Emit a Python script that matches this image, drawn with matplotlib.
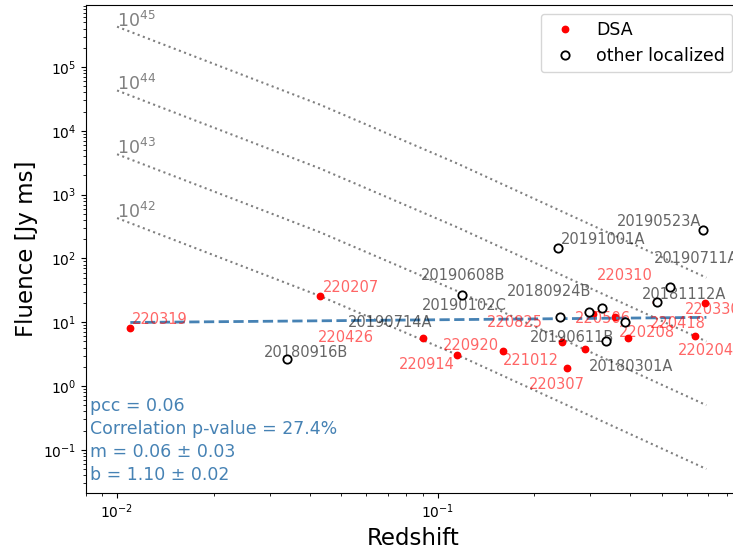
import matplotlib
matplotlib.use("Agg")
import matplotlib.pyplot as plt
import numpy as np

# DSA bursts (redshift, fluence in Jy ms)
dsa_names = ['220319', '220207', '220426', '220914', '220920', '221012', '220825',
             '220307', '220506', '220208', '220204', '220418', '220330', '220310']
dsa_z = [0.0110, 0.0431, 0.0901, 0.1148, 0.160, 0.2885, 0.2446,
         0.254, 0.306, 0.358, 0.394, 0.635, 0.685, 0.480]
dsa_fluence = [8.0, 26.0, 5.65, 3.09, 3.54, 3.80, 4.89,
               1.94, 13.3, 12.2, 5.71, 6.08, 19.8, 21.0]

# other localized bursts
oth_names = ['20180916B', '20190608B', '20191001A', '20190714A', '20190102C', '20180924B',
             '20180301A', '20190611B', '20181112A', '20190711A', '20190523A']
oth_z = [0.0338, 0.119, 0.237, 0.2406, 0.297, 0.3267,
         0.336, 0.3855, 0.4853, 0.532, 0.674]
oth_fluence = [2.62, 27.0, 144.0, 12.2, 14.3, 16.5,
               5.07, 10.2, 20.5, 35.2, 282.0]

energy_exp = [42, 43, 44, 45]
curve_z = [0.01, 0.043, 0.1155, 0.69]
curve_f42 = [430.0, 25.7, 3.06, 0.05]

# fitted line endpoints
fit_z = [0.011, 0.69]
fit_fluence = [9.9, 11.9]

stats_text = ("pcc = 0.06\nCorrelation p-value = 27.4%\n"
              "m = 0.06 \u00b1 0.03\nb = 1.10 \u00b1 0.02")

# label offsets in pixels (left, baseline)
dsa_offsets = [(2, 4), (2, 4), (-105, -4), (-58, -14), (-60, 1), (-82, -16), (-75, 15),
               (-38, -21), (-18, -9), (4, -20), (50, -17), (-45, 8), (-20, -11), (-59, 22)]
oth_offsets = [(-23, 2), (-41, 15), (3, 4), (-212, -10), (-167, 2), (-95, 12),
               (-17, -30), (-95, -20), (-16, 3), (-16, 24), (-86, 4)]

fig = plt.figure(figsize=(7.33, 5.48), dpi=100)
ax = fig.add_axes([86 / 733, 55 / 548, (741 - 86) / 733, 488 / 548])

for e in energy_exp:
    f = np.array(curve_f42) * 10.0 ** (e - 42)
    ax.plot(curve_z, f, ':', color='gray', lw=1.5)
    ax.text(curve_z[0], f[0], r'$10^{%d}$' % e, color='gray', fontsize=12.5,
            ha='left', va='baseline')

ax.plot(dsa_z, dsa_fluence, 'o', color='red', ms=4.6, ls='none', label='DSA', zorder=2)
ax.plot(oth_z, oth_fluence, 'o', mfc='white', mec='black', mew=1.3, ms=6,
        ls='none', label='other localized', zorder=4)

ax.plot(fit_z, fit_fluence, '--', color='steelblue', lw=2)

for name, z, f, off in zip(dsa_names, dsa_z, dsa_fluence, dsa_offsets):
    ax.annotate(name, (z, f), xytext=off, textcoords='offset pixels',
                color='red', alpha=0.6, fontsize=10.5, va='baseline')
for name, z, f, off in zip(oth_names, oth_z, oth_fluence, oth_offsets):
    ax.annotate(name, (z, f), xytext=off, textcoords='offset pixels',
                color='black', alpha=0.6, fontsize=10.5, va='baseline')

ax.text(0.006, 0.018, stats_text, transform=ax.transAxes, color='steelblue',
        fontsize=12.5, va='bottom', ha='left', linespacing=1.37)

ax.set_xscale('log')
ax.set_yscale('log')
ax.set_xlim(0.0080, 0.885)
ax.set_ylim(0.021, 9.4e5)
ax.set_xlabel('Redshift', fontsize=16.5)
ax.set_ylabel('Fluence [Jy ms]', fontsize=16.5)
ax.legend(loc='upper right', fontsize=12.5)

fig.savefig('out.png', dpi=100)
